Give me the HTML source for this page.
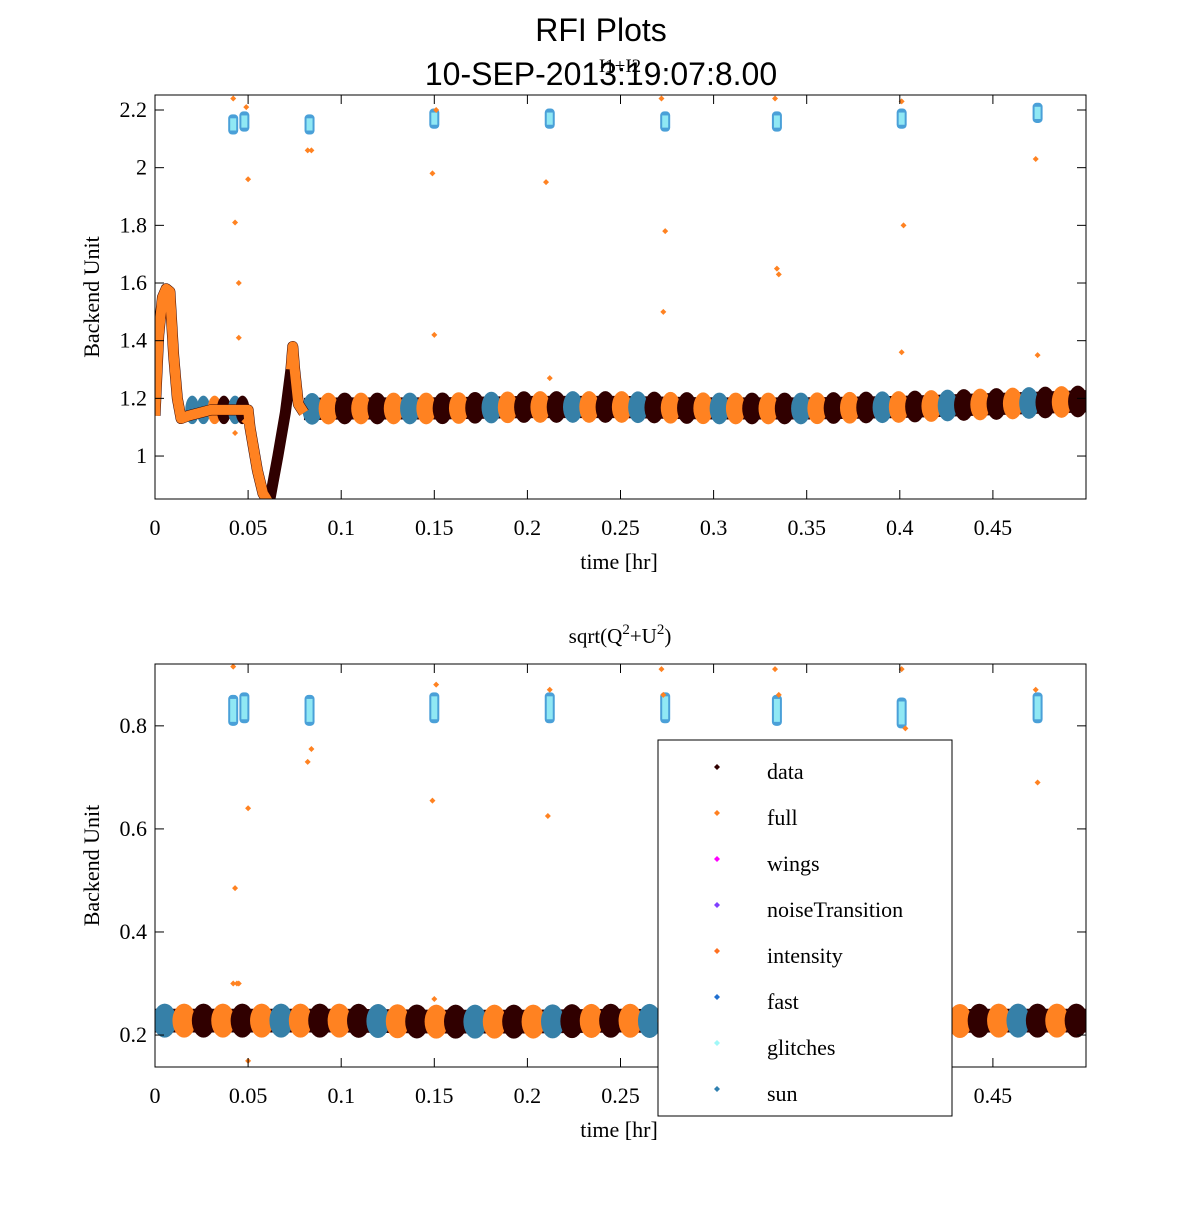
<!DOCTYPE html>
<html><head><meta charset="utf-8"><style>
body{margin:0;background:#fff;}
svg text{font-family:"Liberation Serif",serif;}
</style></head><body>
<svg id="c" width="1200" height="1200" xmlns="http://www.w3.org/2000/svg">
<rect width="1200" height="1200" fill="#fff"/>
<text x="601" y="41" text-anchor="middle" font-size="32" style="font-family:'Liberation Sans',sans-serif">RFI Plots</text>
<text x="601" y="85" text-anchor="middle" font-size="32" style="font-family:'Liberation Sans',sans-serif">10-SEP-2013:19:07:8.00</text>
<text x="620" y="72" text-anchor="middle" font-size="19">I1+I2</text>
<text x="620" y="643" text-anchor="middle" font-size="21">sqrt(Q<tspan dy="-9" font-size="15">2</tspan><tspan dy="9">+U</tspan><tspan dy="-9" font-size="15">2</tspan><tspan dy="9">)</tspan></text>
<g id="g1"></g>
<g id="g2"></g>
<g id="leg"></g>
</svg>
<script>
// ---- data ----
const xTicks=[0,0.05,0.1,0.15,0.2,0.25,0.3,0.35,0.4,0.45];
const xTickLabels=["0","0.05","0.1","0.15","0.2","0.25","0.3","0.35","0.4","0.45"];
const yTicksTop=[1,1.2,1.4,1.6,1.8,2,2.2];
const yTickLabelsTop=["1","1.2","1.4","1.6","1.8","2","2.2"];
const yTicksBot=[0.2,0.4,0.6,0.8];
const yTickLabelsBot=["0.2","0.4","0.6","0.8"];
const curveT=[0,0.002,0.004,0.006,0.008,0.010,0.012,0.014,0.018,0.03,0.05,0.051,0.055,0.058,0.060,0.062,0.066,0.070,0.073,0.074,0.075,0.077,0.08];
const curveY=[1.14,1.42,1.55,1.58,1.57,1.35,1.2,1.13,1.14,1.16,1.16,1.1,0.95,0.87,0.85,0.86,1.0,1.15,1.3,1.38,1.3,1.18,1.15];
const segColors=["s","f","d","f","d","f","s","f","d","f","d","s","f","d","f","d","s","f","d","f","s","d","f","d","f","s","f","d","f","d","s","f","d","f","d","s","f","d","f","s","d","f","d","f","s","d","f","d"];
const topLevel=[1.16,1.16,1.165,1.165,1.17,1.17,1.165,1.165,1.17,1.18,1.19];
const botLevel=[0.228,0.228,0.228,0.226,0.226,0.228,0.226,0.228,0.226,0.228,0.228];
const clusterT=[0.042,0.048,0.083,0.15,0.212,0.274,0.334,0.401,0.474];
const clusterTop=[2.15,2.16,2.15,2.17,2.17,2.16,2.16,2.17,2.19];
const clusterBot=[0.83,0.835,0.83,0.835,0.835,0.835,0.83,0.825,0.835];
const outT1=[0.042,0.043,0.045,0.045,0.05,0.049,0.082,0.084,0.149,0.151,0.15,0.21,0.212,0.273,0.272,0.274,0.334,0.333,0.335,0.401,0.402,0.401,0.474,0.473,0.043,0.048];
const outY1=[2.24,1.81,1.6,1.41,1.96,2.21,2.06,2.06,1.98,2.2,1.42,1.95,1.27,1.5,2.24,1.78,1.65,2.24,1.63,1.36,1.8,2.23,1.35,2.03,1.08,1.12];
const outT2=[0.042,0.043,0.045,0.05,0.082,0.084,0.149,0.151,0.211,0.212,0.272,0.273,0.333,0.335,0.401,0.403,0.474,0.473,0.042,0.044,0.05,0.15];
const outY2=[0.915,0.485,0.30,0.64,0.73,0.755,0.655,0.88,0.625,0.87,0.91,0.86,0.91,0.86,0.91,0.795,0.69,0.87,0.3,0.3,0.15,0.27];
const legendLabels=["data","full","wings","noiseTransition","intensity","fast","glitches","sun"];
const legendColors=["#300000","#ff8020","#ff00ff","#8040ff","#ff7020","#2070d0","#a0f8f8","#3080b0"];
// ---- drawing ----
const NS="http://www.w3.org/2000/svg";
const COL={d:"#300000",f:"#ff8221",s:"#3680a8"};
function el(p,t,a){const e=document.createElementNS(NS,t);for(const k in a)e.setAttribute(k,a[k]);p.appendChild(e);return e;}
function panel(g,top,bot,ymin,ymax,yt,ytl,level,hw,cl,clY,oT,oY,isTop){
 const L=155,R=1086;
 const X=t=>L+(t/0.5)*(R-L);
 const Y=v=>bot-(v-ymin)/(ymax-ymin)*(bot-top);
 const clip="clip"+top;
 const cp=el(el(g,"defs",{}),"clipPath",{id:clip});el(cp,"rect",{x:L,y:top,width:R-L,height:bot-top});
 const dg=el(g,"g",{"clip-path":`url(#${clip})`});
 
 
 const lev=t=>{const i=Math.min(9,Math.floor(t/0.05));const f=t/0.05-i;return level[i]*(1-f)+level[i+1]*f;};
 const ry=Math.abs(Y(0)-Y(hw));
 const start=isTop?0.08:0.0, w=(0.5-start)/segColors.length;
 let ul="";for(let k=0;k<=40;k++){const t=start+(0.5-start)*k/40;ul+=(k?"L":"M")+X(t)+" "+(Y(lev(t))-ry*0.7);}
 for(let k=40;k>=0;k--){const t=start+(0.5-start)*k/40;ul+="L"+X(t)+" "+(Y(lev(t))+ry*0.7);}
 const u=el(dg,"path",{d:ul+"Z",fill:COL.d});
 
 
 segColors.forEach((c,i)=>{const t=start+(i+0.5)*w;const e=el(dg,"ellipse",{cx:X(t),cy:Y(lev(t)),rx:(X(w)-X(0))*0.6,ry:ry,fill:COL[c]});
  
  });
 if(isTop){
  [["s",0.02],["s",0.026],["f",0.032],["d",0.037],["s",0.043],["d",0.047]].forEach(([c,t])=>{const e=el(dg,"ellipse",{cx:X(t),cy:Y(1.16),rx:7,ry:ry*0.9,fill:COL[c]});
   
   });
  let pd="";curveT.forEach((t,i)=>{pd+=(i?"L":"M")+X(t)+" "+Y(curveY[i]);});
  const c1=el(dg,"path",{d:pd,stroke:COL.d,"stroke-width":11,fill:"none","stroke-linejoin":"round"});
  
  
  let po="";curveT.forEach((t,i)=>{if(t<=0.062||t>=0.073)po+=((t===0||t===0.073)?"M":"L")+X(t)+" "+Y(curveY[i]);});
  const c2=el(dg,"path",{d:po,stroke:COL.f,"stroke-width":10,fill:"none","stroke-linejoin":"round"});
  
  
 }
 cl.forEach((t,i)=>{const h=Math.abs(Y(0)-Y(isTop?0.035:0.03));
  const e=el(dg,"rect",{x:X(t)-5,y:Y(clY[i])-h,width:10,height:2*h,rx:4,fill:"#4aa0d8"});
  
  
  const e2=el(dg,"rect",{x:X(t)-3,y:Y(clY[i])-h+4,width:6,height:2*h-8,fill:"#90e8f4"});
  
  });
 oT.forEach((t,i)=>{const e=el(dg,"path",{d:`M${X(t)-3} ${Y(oY[i])}L${X(t)} ${Y(oY[i])-3}L${X(t)+3} ${Y(oY[i])}L${X(t)} ${Y(oY[i])+3}Z`,fill:COL.f});
  
  });
 el(g,"rect",{x:L,y:top,width:R-L,height:bot-top,fill:"none",stroke:"#000","stroke-width":1});
 xTicks.forEach((t,i)=>{el(g,"line",{x1:X(t),x2:X(t),y1:bot,y2:bot-9,stroke:"#000"});el(g,"line",{x1:X(t),x2:X(t),y1:top,y2:top+9,stroke:"#000"});
  const tx=el(g,"text",{x:X(t),y:bot+36,"text-anchor":"middle","font-size":22});tx.textContent=xTickLabels[i];
  
  });
 yt.forEach((v,i)=>{el(g,"line",{x1:L,x2:L+9,y1:Y(v),y2:Y(v),stroke:"#000"});el(g,"line",{x1:R,x2:R-9,y1:Y(v),y2:Y(v),stroke:"#000"});
  const tx=el(g,"text",{x:L-8,y:Y(v)+7,"text-anchor":"end","font-size":22});tx.textContent=ytl[i];
  
  });
 const xl=el(g,"text",{x:619,y:bot+70,"text-anchor":"middle","font-size":22});xl.textContent="time [hr]";
 
 
 const yl=el(g,"text",{x:0,y:0,"text-anchor":"middle","font-size":22,transform:`translate(99,${(top+bot)/2}) rotate(-90)`});yl.textContent="Backend Unit";
 
 
}
panel(document.getElementById("g1"),95,499,0.851,2.252,yTicksTop,yTickLabelsTop,topLevel,0.055,clusterT,clusterTop,outT1,outY1,true);
panel(document.getElementById("g2"),664,1067,0.138,0.92,yTicksBot,yTickLabelsBot,botLevel,0.033,clusterT,clusterBot,outT2,outY2,false);
const lg=document.getElementById("leg");
el(lg,"rect",{x:658,y:740,width:294,height:376,fill:"#fff",stroke:"#000"});
legendLabels.forEach((s,i)=>{const y=772+i*46;
 const m=el(lg,"path",{d:`M714 ${y-5}L717 ${y-8}L720 ${y-5}L717 ${y-2}Z`,fill:legendColors[i]});
 
 
 const t=el(lg,"text",{x:767,y:y+7,"font-size":22});t.textContent=s;
 
 });
</script>
</body></html>
